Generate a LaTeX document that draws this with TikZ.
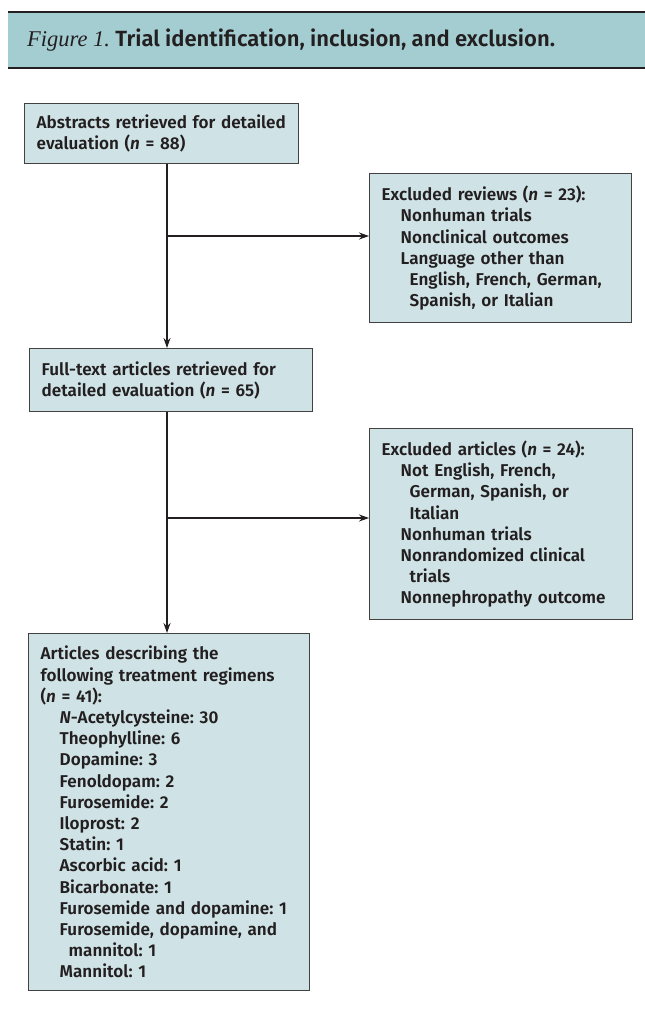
\documentclass[tikz,border=0pt]{standalone}
\usepackage{fontspec}
\setmainfont{Fira Sans}[UprightFont=* SemiBold, ItalicFont=* SemiBold Italic]
\newfontfamily\figserif{Liberation Serif}
\usetikzlibrary{arrows.meta}
\definecolor{bandcol}{HTML}{A3CDD1}
\definecolor{boxcol}{HTML}{CFE3E6}
\definecolor{inkcol}{HTML}{231F20}
\frenchspacing
\begin{document}
\begin{tikzpicture}[x=1pt,y=-1pt,
		flowbox/.style={draw=inkcol!85, line width=1.4pt, fill=boxcol, text=inkcol, align=left, anchor=north west, inner xsep=12pt, inner ysep=0pt, font=\fontsize{17.1}{21.2}\selectfont},
		flowarrow/.style={draw=inkcol, line width=1.2pt, -{Stealth[length=10pt,width=7pt]}}]
		\newcommand{\firstind}{\hspace*{19pt}}
		\newcommand{\secondind}{\hspace*{28pt}}
		\useasboundingbox (0,0) rectangle (645,1018);
		%Title band
		\fill [bandcol] (8,12) rectangle (645,68);
		\draw [inkcol, line width=1.5pt] (8,12) -- (645,12);
		\draw [inkcol, line width=2.5pt] (8,68) -- (645,68);
		\node [anchor=west, text=inkcol, inner sep=0pt, font=\fontsize{22}{24}\selectfont] (title) at (27,40) {{\figserif\itshape\fontsize{22.5}{24}\selectfont Figure 1.} Trial identification, inclusion, and exclusion.};
		%Abstracts
		\node [flowbox, text width=250, minimum height=60] (abs) at (24,103) {Abstracts retrieved for detailed\\evaluation (\textit{n} = 88)};
		%Excluded reviews
		\node [flowbox, text width=238, minimum height=149] (revw) at (369,173) {Excluded reviews (\textit{n} = 23):\\
			\firstind Nonhuman trials\\
			\firstind Nonclinical outcomes\\
			\firstind Language other than\\
			\secondind English, French, German,\\
			\secondind Spanish, or Italian};
		%Full text
		\node [flowbox, text width=259, minimum height=63] (full) at (29,348) {Full-text articles retrieved for\\detailed evaluation (\textit{n} = 65)};
		%Excluded articles
		\node [flowbox, text width=239, minimum height=191] (exart) at (369,428) {Excluded articles (\textit{n} = 24):\\
			\firstind Not English, French,\\
			\secondind German, Spanish, or\\
			\secondind Italian\\
			\firstind Nonhuman trials\\
			\firstind Nonrandomized clinical\\
			\secondind trials\\
			\firstind Nonnephropathy outcome};
		%Regimens
		\node [flowbox, text width=257, minimum height=357] (regim) at (28,633) {Articles describing the\\
			following treatment regimens\\
			(\textit{n} = 41):\\
			\firstind \textit{N}-Acetylcysteine: 30\\
			\firstind Theophylline: 6\\
			\firstind Dopamine: 3\\
			\firstind Fenoldopam: 2\\
			\firstind Furosemide: 2\\
			\firstind Iloprost: 2\\
			\firstind Statin: 1\\
			\firstind Ascorbic acid: 1\\
			\firstind Bicarbonate: 1\\
			\firstind Furosemide and dopamine: 1\\
			\firstind Furosemide, dopamine, and\\
			\secondind mannitol: 1\\
			\firstind Mannitol: 1};
		%Connectors
		\coordinate (split1) at (167,236);
		\coordinate (split2) at (167,518);
		\draw [flowarrow] (abs.south -| split1) -- (full.north -| split1);
		\draw [flowarrow] (split1) -- (split1 -| revw.west);
		\draw [flowarrow] (full.south -| split2) -- (regim.north -| split2);
		\draw [flowarrow] (split2) -- (split2 -| exart.west);
\end{tikzpicture}
\end{document}
